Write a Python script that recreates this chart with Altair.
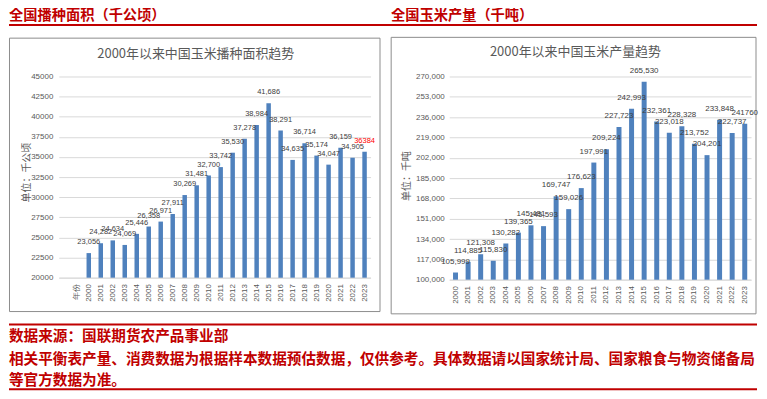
import altair as alt
import pandas as pd

# ---------------- data ----------------
years = [str(y) for y in range(2000, 2024)]
left_categories = ["", "年份"] + years

area_values = [23056, 24282, 24634, 24069, 25446, 26358, 26971, 27911, 30269, 31481,
               32700, 33742, 35530, 37278, 38984, 41686, 38291, 34635, 36714, 35174,
               34047, 36159, 34905, 35650]
area_labels = ["23,056", "24,282", "24,634", "24,069", "25,446", "26,358", "26,971", "27,911",
               "30,269", "31,481", "32,700", "33,742", "35,530", "37,278", "38,984", "41,686",
               "38,291", "34,635", "36,714", "35,174", "34,047", "36,159", "34,905", "36384"]

prod_values = [105999, 114885, 121308, 115830, 130282, 139365, 145481, 144800, 169747, 159026,
               176623, 197991, 209224, 227723, 242993, 265530, 232361, 223018, 228328, 213752,
               204201, 233848, 222737, 230400]
prod_labels = ["105,999", "114,885", "121,308", "115,830", "130,282", "139,365", "145,481", "145,593",
               "169,747", "159,026", "176,623", "197,991", "209,224", "227,723", "242,993", "265,530",
               "232,361", "223,018", "228,328", "213,752", "204,201", "233,848", "222,737", "241760"]

area_ticks = list(range(20000, 45001, 2500))
prod_ticks = list(range(100000, 270001, 17000))

header_left = "全国播种面积（千公顷）"
header_right = "全国玉米产量（千吨）"
title_left = "2000年以来中国玉米播种面积趋势"
title_right = "2000年以来中国玉米产量趋势"
ytitle_left = "单位：千公顷"
ytitle_right = "单位：千吨"
footer_lines = [
    "数据来源：国联期货农产品事业部",
    "相关平衡表产量、消费数据为根据样本数据预估数据，仅供参考。具体数据请以国家统计局、国家粮食与物资储备局",
    "等官方数据为准。",
]

# ---------------- styles ----------------
BLUE = "#4F81BD"
RED = "#C00000"
GRAY = "#595959"
GRID = "#D9D9D9"
CJK = "Noto Sans CJK SC"
LAT = "Liberation Sans"

df_area = pd.DataFrame({"year": years, "value": area_values, "label": area_labels})
df_prod = pd.DataFrame({"year": years, "value": prod_values, "label": prod_labels})
one = pd.DataFrame({"a": [1]})

LW, LH = 313, 202
RW, RH = 303, 204


def deco_text(txt, x, y, size, color, weight="normal", align="center", angle=0, font=CJK):
    kw = dict(text=txt, fontSize=size, color=color, fontWeight=weight, align=align,
              baseline="middle", font=font)
    if angle:
        kw["angle"] = angle
    return alt.Chart(one).mark_text(**kw).encode(x=alt.value(x), y=alt.value(y))


def deco_rule(x1, x2, y, color, width):
    return alt.Chart(one).mark_rule(color=color, strokeWidth=width).encode(
        x=alt.value(x1), x2=alt.value(x2), y=alt.value(y))


def frame(x1, x2, y1, y2):
    return alt.Chart(one).mark_rect(fillOpacity=0, stroke="#8C8C8C", strokeWidth=1).encode(
        x=alt.value(x1), x2=alt.value(x2), y=alt.value(y1), y2=alt.value(y2))


# ---------------- left chart ----------------
xl = alt.X("year:N", scale=alt.Scale(domain=left_categories), sort=left_categories, title=None,
           axis=alt.Axis(labelAngle=-90, labelFontSize=8, labelColor=GRAY, labelFont=LAT,
                         ticks=False, domainColor=GRID, labelPadding=6))
yl = alt.Y("value:Q", scale=alt.Scale(domain=[20000, 45000], zero=False, nice=False), title=None,
           axis=alt.Axis(values=area_ticks, format="d", labelFontSize=8, labelColor=GRAY,
                         labelFont=LAT, ticks=False, domain=False, gridColor=GRID, labelPadding=6))

bars_l = alt.Chart(df_area).mark_bar(color=BLUE, size=4.5).encode(x=xl, y=yl, y2=alt.datum(20000))
text_l = alt.Chart(df_area).mark_text(baseline="bottom", dy=-7, fontSize=7.5, font=LAT).encode(
    x=xl, y=yl, text="label:N",
    color=alt.condition(alt.datum.year == "2023", alt.value("#FF0000"), alt.value("#404040")))

left = alt.layer(
    alt.Chart(one).mark_rect(opacity=0).encode(
        x=alt.value(-50), x2=alt.value(701), y=alt.value(-68), y2=alt.value(315)),
    frame(-49.5, 322.5, -38.5, 236),
    deco_text(header_left, -50, -60.6, 14.3, RED, "bold", "left"),
    deco_rule(-50, 701, -51.7, RED, 2),
    deco_text(title_left, 137.5, -23, 13, GRAY),
    deco_text(ytitle_left, -32, 96.5, 10, GRAY, angle=270),
    bars_l, text_l,
    deco_rule(-50, 701, 249, RED, 2),
    deco_text(footer_lines[0], -50, 262, 14.7, RED, "bold", "left"),
    deco_text(footer_lines[1], -50, 284.5, 14.7, RED, "bold", "left"),
    deco_text(footer_lines[2], -50, 306, 14.7, RED, "bold", "left"),
    deco_rule(-50, 701, 314, RED, 2),
).properties(width=LW, height=LH)

# ---------------- right chart ----------------
xr = alt.X("year:N", scale=alt.Scale(domain=years), sort=years, title=None,
           axis=alt.Axis(labelAngle=-90, labelFontSize=8, labelColor=GRAY, labelFont=LAT,
                         ticks=False, domainColor=GRID, labelPadding=6))
yr = alt.Y("value:Q", scale=alt.Scale(domain=[100000, 270000], zero=False, nice=False), title=None,
           axis=alt.Axis(values=prod_ticks, format=",d", labelFontSize=8, labelColor=GRAY,
                         labelFont=LAT, ticks=False, domain=False, gridColor=GRID, labelPadding=5))

bars_r = alt.Chart(df_prod).mark_bar(color=BLUE, size=5).encode(x=xr, y=yr, y2=alt.datum(100000))
text_r = alt.Chart(df_prod).mark_text(baseline="bottom", dy=-7, fontSize=8, font=LAT,
                                      color="#404040").encode(x=xr, y=yr, text="label:N")

right = alt.layer(
    frame(-58.3, 308, -39.3, 238.3),
    deco_text(header_right, -58.5, -60.6, 14.3, RED, "bold", "left"),
    deco_text(title_right, 126.7, -24.3, 13, GRAY),
    deco_text(ytitle_right, -42, 100, 10, GRAY, angle=270),
    bars_r, text_r,
).properties(width=RW, height=RH)

chart = alt.hconcat(left, right, spacing=79, bounds="flush").properties(
    padding=0, background="white"
).configure_view(strokeWidth=0)

chart.save("out.html", embed_options={"renderer": "svg", "actions": False})
